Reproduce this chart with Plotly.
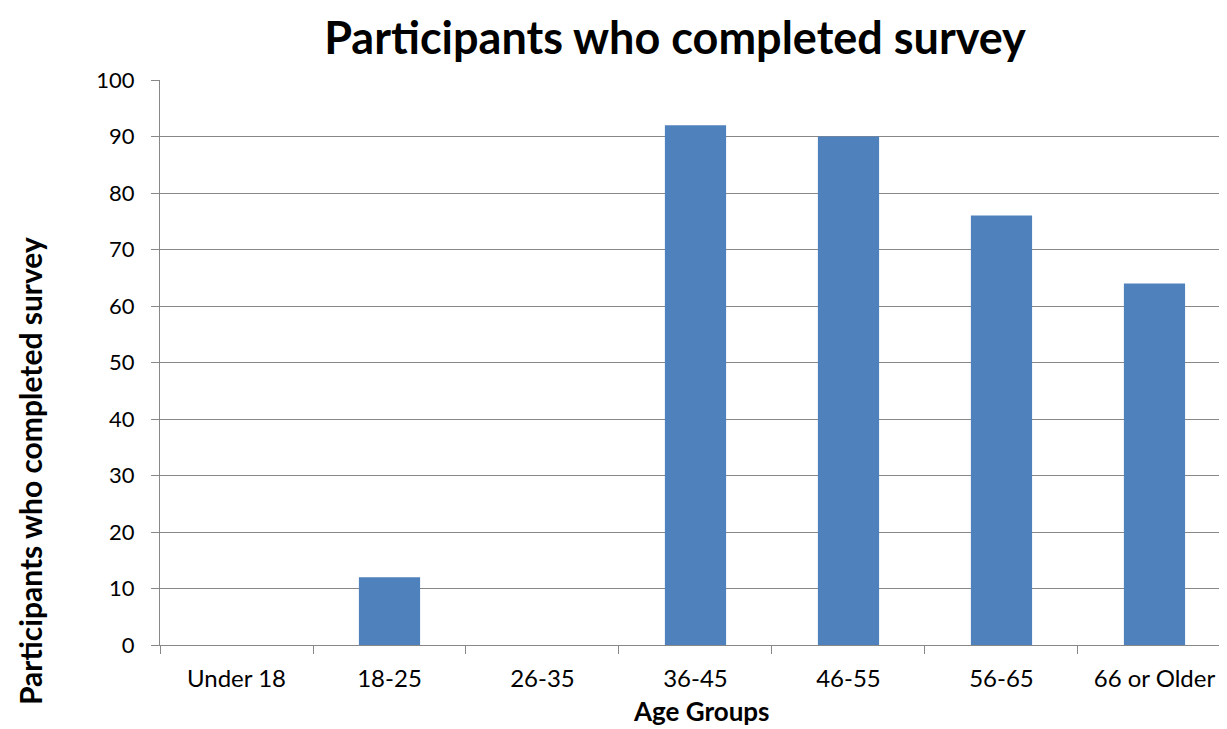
import plotly.graph_objects as go

age_groups = ['Under 18', '18-25', '26-35', '36-45', '46-55', '56-65', '66 or Older']
participants = [0, 12, 0, 92, 90, 76, 64]
y_ticks = [0, 10, 20, 30, 40, 50, 60, 70, 80, 90, 100]

grid = '#878787'
font = 'Lato'

# page body has an 8px margin, so the figure is 8px smaller than the window
W, H = 1219, 721

fig = go.Figure(go.Bar(
    x=age_groups,
    y=participants,
    width=0.4,
    marker=dict(color='#4F81BD', line=dict(width=0)),
))

fig.update_layout(
    width=W, height=H,
    margin=dict(l=152, r=0, t=72, b=84),
    paper_bgcolor='white', plot_bgcolor='white',
    font=dict(family=font, size=22, color='black'),
    title=dict(text='<b>Participants who completed survey</b>', x=667 / W, xanchor='center',
               y=1 - 30 / H, yanchor='middle', font=dict(size=45, family=font)),
    showlegend=False,
)

# axis titles as annotations so they sit where the original has them
fig.add_annotation(text='<b>Participants who completed survey</b>', textangle=-90,
                   xref='paper', yref='paper', x=(30 - 160) / 1067, y=(645 - 471) / 565,
                   xanchor='center', yanchor='middle', showarrow=False,
                   font=dict(size=30, family=font))
fig.add_annotation(text='<b>Age Groups</b>',
                   xref='paper', yref='paper', x=(701 - 160) / 1067, y=(645 - 711) / 565,
                   xanchor='center', yanchor='middle', showarrow=False,
                   font=dict(size=26, family=font))

fig.update_xaxes(
    type='category',
    range=[-0.5, 6.474],
    tickson='boundaries',
    ticks='outside', ticklen=8, tickcolor=grid, tickwidth=1,
    showline=True, linecolor=grid, linewidth=1,
    showgrid=False,
    ticklabelstandoff=12,
    tickfont=dict(size=24),
    automargin=False,
)

fig.update_yaxes(
    range=[0, 100],
    tickvals=y_ticks,
    ticks='outside', ticklen=8, tickcolor=grid, tickwidth=1,
    showline=True, linecolor=grid, linewidth=1,
    showgrid=True, gridcolor=grid, gridwidth=1,
    zeroline=False,
    ticklabelstandoff=12,
    tickfont=dict(size=22),
    automargin=False,
)

fig.write_html('out.html')
